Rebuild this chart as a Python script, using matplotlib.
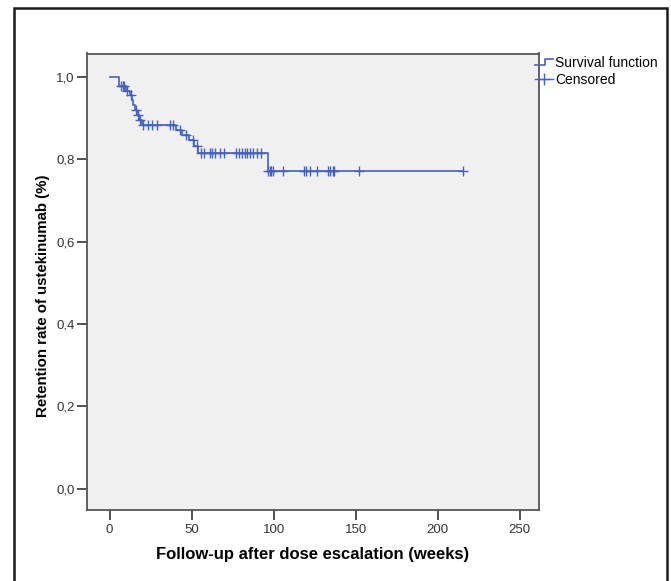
"""Kaplan-Meier retention curve for ustekinumab after dose escalation (SPSS look)."""

import numpy as np
import matplotlib
matplotlib.use("Agg")
import matplotlib.pyplot as plt
from matplotlib.lines import Line2D
from matplotlib.patches import Rectangle
from matplotlib.legend_handler import HandlerBase

# --------------------------------------------------------------------------- #
# Data
# --------------------------------------------------------------------------- #

# event times (weeks) and survival right after each event
EVENT_TIMES = [0, 5.5, 10, 12.5, 13.5, 14.5, 15.5, 16.5, 18, 20,
               40.3, 44.3, 48.5, 51.6, 53.8, 96.3]
SURVIVAL = [1.0, 0.978, 0.966, 0.955, 0.943, 0.930, 0.918, 0.906, 0.894, 0.883,
            0.871, 0.859, 0.847, 0.831, 0.814, 0.770]

# censored observations (weeks)
CENSOR_TIMES = [7, 8, 9, 10.5, 13, 16, 17, 18.5, 20.5, 23.3, 25.6, 28.6, 37, 38.7,
                43, 46.5, 50.6, 53, 55.5, 57.5, 61, 62.5, 64.5, 67.5, 70,
                77, 79, 81, 82.5, 84, 85.5, 87.5, 90, 92,
                96.5, 97.5, 98.5, 99.5, 105.5, 118.5, 120, 122, 126.5,
                133, 134.5, 136, 137, 152, 215.5]

X_TICKS = [0, 50, 100, 150, 200, 250]
Y_TICKS = [0.0, 0.2, 0.4, 0.6, 0.8, 1.0]
Y_TICK_LABELS = ["0,0", "0,2", "0,4", "0,6", "0,8", "1,0"]

LINE_COLOR = "#4462bd"
FONT = "Liberation Sans"


class StepHandler(HandlerBase):
    """Legend icon: a small step going up."""

    def create_artists(self, legend, orig_handle, xdescent, ydescent,
                       width, height, fontsize, trans):
        x0 = -xdescent
        xs = [x0, x0 + width * 0.55, x0 + width * 0.55, x0 + width]
        lo, hi = -ydescent + height * 0.2, -ydescent + height * 0.8
        line = Line2D(xs, [lo, lo, hi, hi], color=orig_handle.get_color(),
                      linewidth=orig_handle.get_linewidth(), transform=trans)
        return [line]


def main() -> None:
    plt.rcParams["font.family"] = [FONT, "DejaVu Sans"]

    fig = plt.figure(figsize=(6.71, 5.81), dpi=100)
    fig.patch.set_facecolor("white")

    # outer frame of the SPSS chart window
    fig.patches.append(Rectangle((14 / 671, -0.02), (667 - 14) / 671, 0.02 + 1 - 8 / 581,
                                 transform=fig.transFigure, fill=False,
                                 edgecolor="#1a1a1a", linewidth=1.8))

    left, right, top, bottom = 87, 539, 53.5, 510
    ax = fig.add_axes([left / 671, 1 - bottom / 581, (right - left) / 671, (bottom - top) / 581])
    ax.set_facecolor("#f0f0f0")

    times = list(EVENT_TIMES) + [max(CENSOR_TIMES)]
    surv = list(SURVIVAL) + [SURVIVAL[-1]]
    step_line, = ax.step(times, surv, where="post", color=LINE_COLOR, linewidth=1.2)

    idx = np.searchsorted(EVENT_TIMES, CENSOR_TIMES, side="right") - 1
    cens_y = np.array(SURVIVAL)[idx]
    ax.plot(CENSOR_TIMES, cens_y, linestyle="none", marker="+", markersize=7,
            markeredgewidth=1.0, color=LINE_COLOR)

    ax.set_xlim(-13.8, 261.8)
    ax.set_ylim(-0.051, 1.056)
    ax.set_xticks(X_TICKS)
    ax.set_yticks(Y_TICKS)
    ax.set_yticklabels(Y_TICK_LABELS)
    ax.tick_params(axis="both", direction="out", length=7, width=1.2, color="#333333",
                   labelsize=9.5, labelcolor="#333333", pad=2)
    ax.tick_params(axis="x", pad=3)

    for side in ["left", "right", "top", "bottom"]:
        ax.spines[side].set_color("#555555")
        ax.spines[side].set_linewidth(1.3)

    ax.set_xlabel("Follow-up after dose escalation (weeks)", fontsize=12,
                  fontweight="bold", labelpad=8)
    ax.set_ylabel("Retention rate of ustekinumab (%)", fontsize=10.8,
                  fontweight="bold")
    ax.yaxis.set_label_coords(-0.082, 0.47)

    cens_handle = Line2D([], [], color=LINE_COLOR, linewidth=1.0, marker="+",
                         markersize=8, markeredgewidth=1.0)
    fig.legend([step_line, cens_handle], ["Survival function", "Censored"],
               handler_map={step_line: StepHandler()},
               loc="upper left", bbox_to_anchor=(535 / 671, 1 - 56 / 581),
               frameon=False, fontsize=10, handlelength=1.3, handletextpad=0.15,
               borderpad=0, borderaxespad=0, labelspacing=0.2)

    fig.savefig("out.png", dpi=100)
    plt.close(fig)


if __name__ == "__main__":
    main()
